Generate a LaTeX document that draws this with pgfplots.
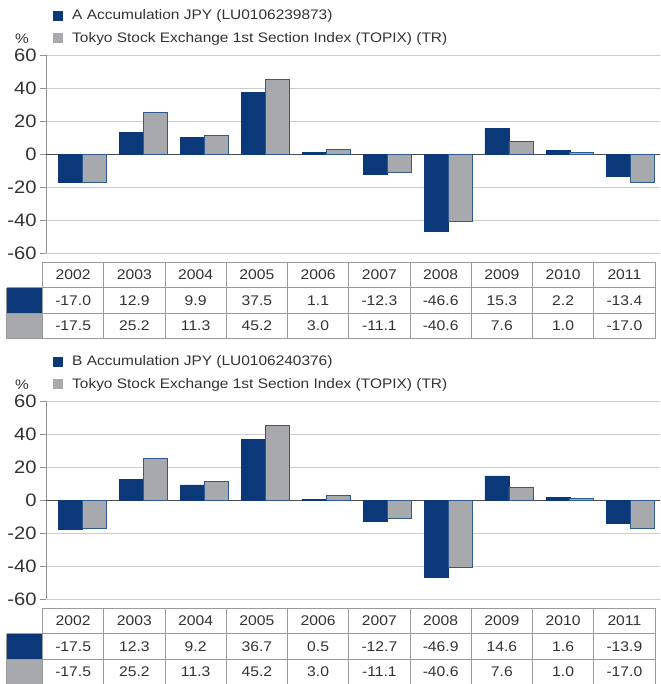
\documentclass[border=0pt]{standalone}
\usepackage{fontspec}
\setmainfont{Liberation Sans}[FakeStretch=1.12]
\usepackage{pgfplots}
\usepackage{pgfplotstable}
\pgfplotsset{compat=1.18}

\definecolor{fundblue}{HTML}{0B3878}
\definecolor{idxgray}{HTML}{A7A9AC}
\definecolor{edgeblue}{HTML}{2E5B94}
\definecolor{tabline}{HTML}{9A9A9A}
\definecolor{txt}{HTML}{333333}

% calendar-year returns, %
\pgfplotstableread{
x year fund index
0 2002 -17.0 -17.5
1 2003 12.9 25.2
2 2004 9.9 11.3
3 2005 37.5 45.2
4 2006 1.1 3.0
5 2007 -12.3 -11.1
6 2008 -46.6 -40.6
7 2009 15.3 7.6
8 2010 2.2 1.0
9 2011 -13.4 -17.0
}\dataA
\pgfplotstableread{
x year fund index
0 2002 -17.5 -17.5
1 2003 12.3 25.2
2 2004 9.2 11.3
3 2005 36.7 45.2
4 2006 0.5 3.0
5 2007 -12.7 -11.1
6 2008 -46.9 -40.6
7 2009 14.6 7.6
8 2010 1.6 1.0
9 2011 -13.9 -17.0
}\dataB

\newcommand\legfont{\fontsize{13.8}{14}\selectfont}
\newcommand\tabfont{\fontsize{14}{14}\selectfont}

\pgfplotsset{panel/.style={
    scale only axis, width=614pt, height=198pt,
    xmin=-0.6, xmax=9.48, ymin=-60, ymax=60,
    xtick=\empty, ytick={-60,-40,...,60},
    axis x line=none, axis y line*=left,
    axis line style={draw=gray!85, line width=0.9pt},
    tick style={draw=gray!85, line width=0.9pt},
    major tick length=6pt, tick align=outside,
    ymajorgrids, grid style={gray!40, line width=0.9pt},
    extra y ticks={0}, extra y tick labels={},
    extra y tick style={grid=major, major grid style={black!70, line width=1pt}},
    /pgf/number format/assume math mode=true,
    yticklabel style={font=\fontsize{18}{18}\selectfont, text=txt},
    ybar=0pt, bar width=0.394,
  }}

\newcommand\drawpanel[3]{%
  \begin{scope}[yshift=-#1pt]
  \begin{axis}[panel, at={(46pt,-253pt)}, anchor=south west]
    \addplot[fill=fundblue, draw=fundblue, line width=0.6pt] table[x=x, y=fund] {#2};
    \addplot[fill=idxgray, draw=edgeblue, line width=0.8pt] table[x=x, y=index] {#2};
  \end{axis}
  % legend
  \fill[fundblue] (53pt,-11pt) rectangle (63pt,-21pt);
  \node[anchor=west, inner sep=0pt, font=\legfont, text=txt] at (72pt,-16pt) {#3};
  \fill[idxgray] (53pt,-33pt) rectangle (63pt,-43pt);
  \node[anchor=west, inner sep=0pt, font=\legfont, text=txt] at (72pt,-38.5pt)
    {Tokyo Stock Exchange 1st Section Index (TOPIX) (TR)};
  \node[anchor=west, inner sep=0pt, font=\legfont, text=txt] at (15pt,-39pt) {\%};
  % table
  \fill[fundblue] (6.5pt,-287.5pt) rectangle (42.5pt,-313pt);
  \fill[idxgray] (6.5pt,-313pt) rectangle (42.5pt,-338.5pt);
  \draw[tabline, line width=0.9pt] (42.5pt,-262pt) -- (655pt,-262pt);
  \foreach \r in {287.5,313,338.5}
    \draw[tabline, line width=0.9pt] (6.5pt,-\r pt) -- (655pt,-\r pt);
  \draw[tabline, line width=0.9pt] (6.5pt,-287.5pt) -- (6.5pt,-338.5pt);
  \foreach \i in {0,...,10} {
    \pgfmathsetmacro\vx{42.5+61.25*\i}
    \draw[tabline, line width=0.9pt] (\vx pt,-262pt) -- (\vx pt,-338.5pt);
  }
  \foreach \i in {0,...,9} {
    \pgfmathsetmacro\cx{42.5+61.25*\i+30.625}
    \pgfplotstablegetelem{\i}{year}\of#2\let\yr\pgfplotsretval
    \pgfplotstablegetelem{\i}{fund}\of#2\let\fv\pgfplotsretval
    \pgfplotstablegetelem{\i}{index}\of#2\let\iv\pgfplotsretval
    \node[font=\tabfont, text=txt] at (\cx pt,-275pt) {\yr};
    \node[font=\tabfont, text=txt] at (\cx pt,-300.5pt) {\fv};
    \node[font=\tabfont, text=txt] at (\cx pt,-326pt) {\iv};
  }
  \end{scope}%
}

\begin{document}
\begin{tikzpicture}
\useasboundingbox (0pt,0pt) rectangle (660pt,-684pt);
\drawpanel{0}{\dataA}{A Accumulation JPY (LU0106239873)}
\drawpanel{346}{\dataB}{B Accumulation JPY (LU0106240376)}
\end{tikzpicture}
\end{document}
